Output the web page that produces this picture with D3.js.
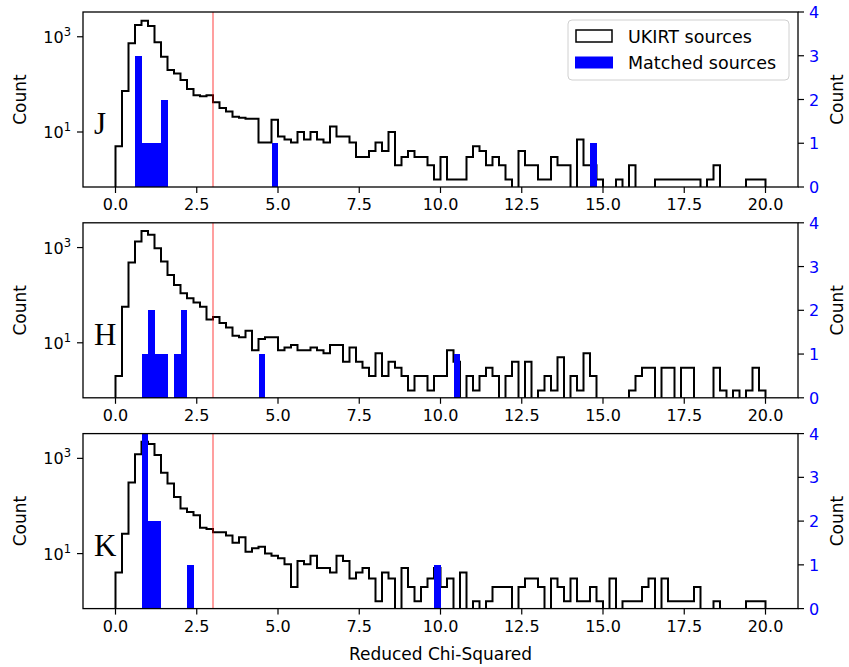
<!DOCTYPE html>
<meta charset="utf-8">
<style>
body { margin: 0; background: #fff; }
text { font-family: "DejaVu Sans", sans-serif; fill: #000; }
</style>
<body>
<svg id="chart" width="849" height="667"></svg>
<script src="https://cdn.jsdelivr.net/npm/d3@7"></script>
<script>
// histogram bins: 0.0 .. 20.0, width 0.2 (100 bins)
var binWidth = 0.2;
var bands = ["J", "H", "K"];

// all UKIRT sources per bin (log axis)
var jCounts = [5, 73, 728, 1757, 2160, 1675, 764, 380, 200, 170,
  123, 80, 59, 56, 59, 42, 32, 27, 21, 20,
  19, 19, 6, 6, 18, 8, 7, 6, 10, 7,
  10, 7, 6, 13, 8, 8, 6, 3, 3, 4,
  6, 4, 10, 2, 3, 4, 3, 3, 2, 1,
  3, 1, 1, 1, 3, 5, 4, 2, 3, 2,
  1, 0, 4, 2, 2, 1, 1, 3, 2, 2,
  0, 7, 2, 2, 1, 0, 0, 1, 0, 2,
  0, 0, 0, 1, 1, 1, 1, 1, 1, 1,
  0, 1, 2, 0, 0, 0, 0, 1, 1, 1];
var hCounts = [2, 57, 483, 1336, 2240, 1848, 971, 507, 266, 164,
  110, 86, 70, 57, 31, 35, 26, 21, 14, 13,
  18, 7, 12, 13, 13, 7, 8, 9, 7, 7,
  8, 7, 6, 9, 9, 4, 8, 4, 3, 2,
  6, 2, 4, 3, 2, 1, 2, 2, 1, 2,
  2, 7, 4, 0, 2, 1, 2, 3, 2, 0,
  2, 4, 0, 4, 0, 1, 2, 1, 5, 0,
  2, 1, 6, 2, 0, 0, 0, 0, 0, 1,
  2, 3, 3, 0, 3, 3, 0, 3, 3, 0,
  0, 0, 3, 1, 0, 1, 0, 1, 3, 1];
var kCounts = [4, 26, 313, 1213, 2240, 2000, 1175, 497, 295, 155,
  89, 75, 64, 35, 33, 28, 28, 24, 17, 22,
  11, 13, 14, 10, 9, 8, 6, 2, 7, 6,
  9, 5, 5, 4, 9, 7, 3, 4, 5, 3,
  1, 4, 3, 0, 5, 2, 1, 2, 3, 5,
  2, 3, 0, 4, 0, 1, 0, 1, 2, 2,
  2, 0, 2, 3, 3, 2, 0, 3, 2, 1,
  3, 1, 1, 2, 1, 0, 3, 0, 1, 1,
  1, 2, 3, 0, 3, 1, 1, 1, 1, 2,
  0, 0, 1, 0, 0, 0, 0, 1, 1, 1];

// matched sources: bin index -> count (right axis)
var jMatchBins = [3, 4, 5, 6, 7, 24, 73];
var jMatchCounts = [3, 1, 1, 1, 2, 1, 1];
var hMatchBins = [4, 5, 6, 7, 9, 10, 22, 52];
var hMatchCounts = [1, 2, 1, 1, 1, 2, 1, 1];
var kMatchBins = [4, 5, 6, 11, 49];
var kMatchCounts = [4, 2, 2, 1, 1];

var xTicks = [0, 2.5, 5, 7.5, 10, 12.5, 15, 17.5, 20];
var logTicks = [1, 3];          // exponents shown on the left axis
var rightTicks = [0, 1, 2, 3, 4];
var chiCut = 3;
var legendLabels = ["UKIRT sources", "Matched sources"];

var allCounts = [jCounts, hCounts, kCounts];
var allMatch = [[jMatchBins, jMatchCounts], [hMatchBins, hMatchCounts], [kMatchBins, kMatchCounts]];

var svg = d3.select("#chart");
var left = 83, right = 798, panelH = 175, panelStep = 210.8, top0 = 12;

var x = d3.scaleLinear().domain([-1, 21]).range([left, right]);

bands.forEach(function(band, p) {
  var top = top0 + p * panelStep, bottom = top + panelH;
  var y = d3.scaleLog().domain([Math.pow(10, -0.155), Math.pow(10, 3.52)]).range([bottom, top]);
  var y2 = d3.scaleLinear().domain([0, 4]).range([bottom, top]);
  var counts = allCounts[p];

  var g = svg.append("g");
  g.append("clipPath").attr("id", "clip" + p)
    .append("rect").attr("x", left).attr("y", top).attr("width", right - left).attr("height", panelH);

  // step outline
  var pts = [[0, bottom + 3]];
  counts.forEach(function(c, i) {
    var yy = c > 0 ? y(c) : bottom + 3;
    pts.push([i * binWidth, yy]);
    pts.push([(i + 1) * binWidth, yy]);
  });
  pts.push([counts.length * binWidth, bottom + 3]);
  g.append("path")
    .attr("clip-path", "url(#clip" + p + ")")
    .attr("d", d3.line().x(function(d) { return x(d[0]); }).y(function(d) { return d[1]; })(pts))
    .attr("fill", "none").attr("stroke", "#000").attr("stroke-width", 2)
    .attr("stroke-linejoin", "miter");

  // chi-squared cut
  g.append("line")
    .attr("x1", x(chiCut)).attr("x2", x(chiCut)).attr("y1", top).attr("y2", bottom)
    .attr("stroke", "#ff0000").attr("stroke-opacity", 0.5).attr("stroke-width", 1.5);

  // matched sources
  var mb = allMatch[p][0], mc = allMatch[p][1];
  g.selectAll("rect.match").data(mb).enter().append("rect")
    .attr("class", "match")
    .attr("x", function(b) { return x(b * binWidth); })
    .attr("width", function(b) { return x((b + 1) * binWidth) - x(b * binWidth); })
    .attr("y", function(b, i) { return y2(mc[i]); })
    .attr("height", function(b, i) { return bottom - y2(mc[i]); })
    .attr("fill", "#0000ff")
    .attr("shape-rendering", "crispEdges");

  // frame
  g.append("rect").attr("x", left).attr("y", top).attr("width", right - left).attr("height", panelH)
    .attr("fill", "none").attr("stroke", "#000").attr("stroke-width", 1.3);

  // x axis
  g.selectAll("line.xt").data(xTicks).enter().append("line")
    .attr("x1", function(d) { return x(d); }).attr("x2", function(d) { return x(d); })
    .attr("y1", bottom).attr("y2", bottom + 6).attr("stroke", "#000").attr("stroke-width", 1.2);
  g.selectAll("text.xt").data(xTicks).enter().append("text")
    .attr("x", function(d) { return x(d); }).attr("y", bottom + 23)
    .attr("text-anchor", "middle").style("font-size", "16px")
    .text(function(d) { return d3.format(".1f")(d); });

  // left log axis
  logTicks.forEach(function(e) {
    var ty = y(Math.pow(10, e));
    g.append("line").attr("x1", left - 6).attr("x2", left).attr("y1", ty).attr("y2", ty)
      .attr("stroke", "#000").attr("stroke-width", 1.2);
    var t = g.append("text").attr("x", left - 12).attr("y", ty + 6)
      .attr("text-anchor", "end").style("font-size", "16px");
    t.append("tspan").text("10");
    t.append("tspan").attr("dy", -7).style("font-size", "11.5px").text(e);
  });
  g.append("text")
    .attr("transform", "translate(26," + (top + panelH / 2) + ") rotate(-90)")
    .attr("text-anchor", "middle").style("font-size", "17px").text("Count");

  // right linear axis
  g.selectAll("line.rt").data(rightTicks).enter().append("line")
    .attr("x1", right).attr("x2", right + 6)
    .attr("y1", function(d) { return y2(d); }).attr("y2", function(d) { return y2(d); })
    .attr("stroke", "#000").attr("stroke-width", 1.2);
  g.selectAll("text.rt").data(rightTicks).enter().append("text")
    .attr("x", right + 11).attr("y", function(d) { return y2(d) + 6; })
    .style("font-size", "16px").style("fill", "#0000ff")
    .text(function(d) { return d; });
  g.append("text")
    .attr("transform", "translate(843," + (top + panelH / 2) + ") rotate(-90)")
    .attr("text-anchor", "middle").style("font-size", "17px").text("Count");

  // band letter
  g.append("text").attr("x", 94).attr("y", top + 122)
    .style("font-family", "'Liberation Serif', 'DejaVu Serif', serif")
    .style("font-size", "31px").text(band);

  // legend on first panel
  if (p === 0) {
    var lg = g.append("g");
    lg.append("rect").attr("x", 568).attr("y", 20).attr("width", 221).attr("height", 60)
      .attr("rx", 4).attr("fill", "#fff").attr("fill-opacity", 0.8)
      .attr("stroke", "#d0d0d0").attr("stroke-width", 1);
    lg.append("rect").attr("x", 576).attr("y", 30).attr("width", 36).attr("height", 12)
      .attr("fill", "#fff").attr("stroke", "#000").attr("stroke-width", 1.5);
    lg.append("rect").attr("x", 575).attr("y", 56.5).attr("width", 38).attr("height", 12)
      .attr("fill", "#0000ff");
    lg.selectAll("text").data(legendLabels).enter().append("text")
      .attr("x", 628).attr("y", function(d, i) { return 43 + i * 25.6; })
      .style("font-size", "17.5px").text(function(d) { return d; });
  }
});

svg.append("text").attr("x", (left + right) / 2).attr("y", 660)
  .attr("text-anchor", "middle").style("font-size", "17px").text("Reduced Chi-Squared");
</script>
</body>
